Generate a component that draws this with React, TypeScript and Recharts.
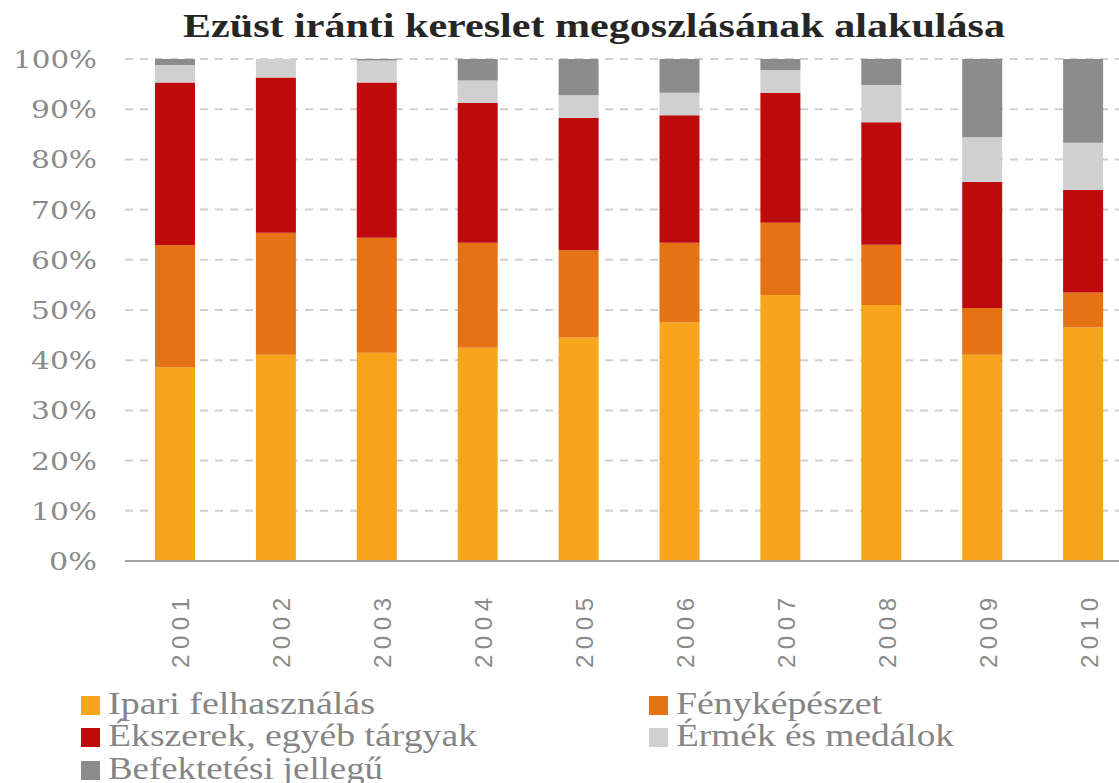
import React from 'react';
import { BarChart, Bar, XAxis, YAxis, CartesianGrid } from 'recharts';

const title = 'Ezüst iránti kereslet megoszlásának alakulása';
const years = ['2001', '2002', '2003', '2004', '2005', '2006', '2007', '2008', '2009', '2010'];
const ipari = [38.6, 41.1, 41.5, 42.5, 44.5, 47.5, 53.0, 51.0, 41.1, 46.5];
const fenykep = [24.3, 24.3, 22.9, 20.9, 17.4, 15.9, 14.4, 12.0, 9.3, 7.0];
const ekszer = [32.4, 30.9, 30.9, 27.9, 26.4, 25.4, 25.9, 24.4, 25.1, 20.4];
const ermek = [3.5, 3.7, 4.4, 4.4, 4.5, 4.5, 4.5, 7.4, 8.9, 9.4];
const befekt = [1.2, 0, 0.3, 4.3, 7.2, 6.7, 2.2, 5.2, 15.6, 16.7];
const yTicks = [0, 10, 20, 30, 40, 50, 60, 70, 80, 90, 100];

const seriesKeys = ['ipari', 'fenykep', 'ekszer', 'ermek', 'befekt'];
const seriesNames = [
  'Ipari felhasználás',
  'Fényképészet',
  'Ékszerek, egyéb tárgyak',
  'Érmék és medálok',
  'Befektetési jellegű',
];
const seriesColors = ['#F7A51C', '#E57213', '#BE0A0A', '#D0D0D0', '#8C8C8C'];
const seriesValues = [ipari, fenykep, ekszer, ermek, befekt];

const data = years.map((y, i) => {
  const row: Record<string, any> = { year: y };
  seriesKeys.forEach((k, s) => {
    row[k] = seriesValues[s][i];
  });
  return row;
});

// legend layout (styling only)
const legendPos = [
  { x: 81, y: 696, len: 267 },
  { x: 649, y: 696, len: 206 },
  { x: 81, y: 728, len: 369 },
  { x: 649, y: 728, len: 278 },
  { x: 81, y: 761, len: 275 },
];

const YTick = (props: any) => {
  const { x, y, payload } = props;
  const label = `${payload.value}%`;
  const digits = String(payload.value).length;
  return (
    <text
      x={x}
      y={y + 9}
      textAnchor="end"
      fontFamily="DejaVu Serif"
      fontSize={24}
      fill="#8a8a8a"
      textLength={30 + 18 * digits}
      lengthAdjust="spacingAndGlyphs"
    >
      {label}
    </text>
  );
};

const XTick = (props: any) => {
  const { x, y, payload } = props;
  const bx = x + 14;
  return (
    <text
      x={bx}
      y={y}
      transform={`rotate(-90, ${bx}, ${y})`}
      textAnchor="end"
      fontFamily="Liberation Sans"
      fontSize={24}
      fill="#8a8a8a"
      textLength={70}
      lengthAdjust="spacing"
    >
      {payload.value}
    </text>
  );
};

export default function App() {
  return (
    <div
      style={{
        position: 'fixed',
        left: 0,
        top: 0,
        width: 1119,
        height: 783,
        overflow: 'hidden',
        background: '#fff',
      }}
    >
      <BarChart
        width={1134}
        height={783}
        data={data}
        margin={{ top: 59, right: 0, bottom: 0, left: 0 }}
      >
        <CartesianGrid
          vertical={false}
          stroke="#d0d0d0"
          strokeWidth={2}
          strokeDasharray="8 7"
        />
        <XAxis
          dataKey="year"
          height={222}
          tickLine={false}
          tickSize={0}
          tickMargin={37}
          axisLine={{ stroke: '#a0a0a0', strokeWidth: 2 }}
          tick={<XTick />}
          interval={0}
        />
        <YAxis
          width={125}
          domain={[0, 100]}
          ticks={yTicks}
          axisLine={false}
          tickLine={false}
          tickSize={0}
          tickMargin={28}
          tick={<YTick />}
          interval={0}
        />
        {seriesKeys.map((k, i) => (
          <Bar
            key={k}
            dataKey={k}
            name={seriesNames[i]}
            stackId="a"
            fill={seriesColors[i]}
            barSize={40}
            isAnimationActive={false}
          />
        ))}
      </BarChart>
      <svg
        width={1119}
        height={783}
        style={{ position: 'absolute', left: 0, top: 0, pointerEvents: 'none' }}
      >
        <text
          x={183}
          y={37}
          fontFamily="Liberation Serif"
          fontWeight="bold"
          fontSize={34}
          fill="#262626"
          textLength={822}
          lengthAdjust="spacingAndGlyphs"
        >
          {title}
        </text>
        {seriesNames.map((n, i) => (
          <g key={n}>
            <rect x={legendPos[i].x} y={legendPos[i].y} width={19} height={19} fill={seriesColors[i]} />
            <text
              x={legendPos[i].x + 27}
              y={legendPos[i].y + 18}
              fontFamily="Liberation Serif"
              fontSize={32}
              fill="#858585"
              textLength={legendPos[i].len}
              lengthAdjust="spacingAndGlyphs"
            >
              {n}
            </text>
          </g>
        ))}
      </svg>
    </div>
  );
}
